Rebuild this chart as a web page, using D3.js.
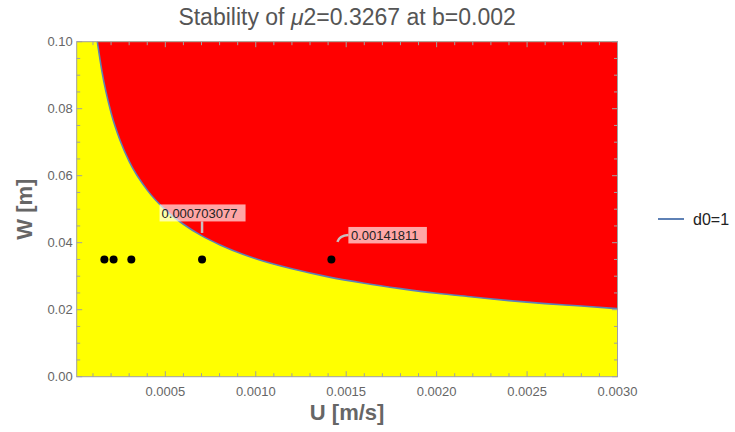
<!DOCTYPE html>
<html>
<head>
<meta charset="utf-8">
<script src="https://cdn.jsdelivr.net/npm/d3@7"></script>
<style>
  html, body { margin: 0; padding: 0; background: #ffffff; }
  svg { display: block; font-family: "Liberation Sans", Arial, sans-serif; }
</style>
</head>
<body>
<svg id="chart" width="735" height="432"></svg>
<script>
// ---- data ----
const boundaryU = [0.000124, 0.00015, 0.0002, 0.00025, 0.0003, 0.0004, 0.0005, 0.0006, 0.0007, 0.0008,
                   0.001, 0.0012, 0.0014, 0.0016, 0.0018, 0.002, 0.0022, 0.0024, 0.0026, 0.0028, 0.003];
const boundaryW = [0.1, 0.0910, 0.0788, 0.0705, 0.0643, 0.0557, 0.0498, 0.0455, 0.0421, 0.0394,
                   0.0352, 0.0322, 0.0298, 0.0279, 0.0263, 0.0249, 0.0238, 0.0227, 0.0218, 0.0211, 0.0203];
const pointU = [0.000163, 0.000214, 0.000312, 0.000703077, 0.00141811];
const pointW = [0.035, 0.035, 0.035, 0.035, 0.035];
const calloutLabels = ["0.000703077", "0.00141811"];
const calloutIndex = [3, 4];
const xTicks = [0.0005, 0.0010, 0.0015, 0.0020, 0.0025, 0.0030];
const xTickLabels = ["0.0005", "0.0010", "0.0015", "0.0020", "0.0025", "0.0030"];
const yTicks = [0, 0.02, 0.04, 0.06, 0.08, 0.10];
const yTickLabels = ["0.00", "0.02", "0.04", "0.06", "0.08", "0.10"];
const xDomain = [0.00001, 0.003];
const yDomain = [0, 0.1];
const legendLabel = "d0=1";

// ---- layout ----
const svg = d3.select("#chart");
const L = 76.7, R = 617.5, T = 41.7, B = 376.7;
const x = d3.scaleLinear().domain(xDomain).range([L, R]);
const y = d3.scaleLinear().domain(yDomain).range([B, T]);
const frameColor = "#a0a0a0";
const tickTextColor = "#666666";

const boundary = boundaryU.map((u, i) => ({u, w: boundaryW[i]}));

// yellow background (stable region)
svg.append("rect").attr("x", L).attr("y", T).attr("width", R - L).attr("height", B - T)
  .attr("fill", "#ffff00");

// red region above the boundary
const area = d3.area().x(d => x(d.u)).y0(y(yDomain[1])).y1(d => y(d.w)).curve(d3.curveMonotoneX);
svg.append("path").datum(boundary).attr("d", area).attr("fill", "#ff0000");

// boundary line
const line = d3.line().x(d => x(d.u)).y(d => y(d.w)).curve(d3.curveMonotoneX);
svg.append("path").datum(boundary).attr("d", line)
  .attr("fill", "none").attr("stroke", "#5e81b5").attr("stroke-width", 1.6);

// frame ticks
const g = svg.append("g");
const xMinor = d3.range(1, 31).map(i => i * 0.0001).filter(v => !xTicks.some(t => Math.abs(t - v) < 1e-9));
const yMinor = d3.range(1, 20).map(i => i * 0.005).filter(v => !yTicks.some(t => Math.abs(t - v) < 1e-9));
const majLen = 5.5, minLen = 3.5;
function tick(x1, y1, x2, y2) {
  g.append("line").attr("x1", x1).attr("y1", y1).attr("x2", x2).attr("y2", y2)
    .attr("stroke", frameColor).attr("stroke-width", 1);
}
xTicks.forEach(v => { tick(x(v), B, x(v), B - majLen); tick(x(v), T, x(v), T + majLen); });
xMinor.forEach(v => { tick(x(v), B, x(v), B - minLen); tick(x(v), T, x(v), T + minLen); });
yTicks.forEach(v => { tick(L, y(v), L + majLen, y(v)); tick(R, y(v), R - majLen, y(v)); });
yMinor.forEach(v => { tick(L, y(v), L + minLen, y(v)); tick(R, y(v), R - minLen, y(v)); });

svg.append("rect").attr("x", L).attr("y", T).attr("width", R - L).attr("height", B - T)
  .attr("fill", "none").attr("stroke", frameColor).attr("stroke-width", 1);

// tick labels
xTicks.forEach((v, i) => {
  svg.append("text").attr("x", x(v)).attr("y", B + 19).attr("text-anchor", "middle")
    .attr("font-size", 13).attr("fill", tickTextColor).text(xTickLabels[i]);
});
yTicks.forEach((v, i) => {
  svg.append("text").attr("x", L - 4).attr("y", y(v) + 4.5).attr("text-anchor", "end")
    .attr("font-size", 13).attr("fill", tickTextColor).text(yTickLabels[i]);
});

// axis labels
svg.append("text").attr("x", (L + R) / 2).attr("y", 420).attr("text-anchor", "middle")
  .attr("font-size", 22).attr("font-weight", "bold").attr("fill", "#666666").text("U [m/s]");
svg.append("text").attr("transform", `translate(32,${(T + B) / 2}) rotate(-90)`)
  .attr("text-anchor", "middle").attr("font-size", 22).attr("font-weight", "bold")
  .attr("fill", "#666666").text("W [m]");

// title
const title = svg.append("text").attr("x", (L + R) / 2).attr("y", 25).attr("text-anchor", "middle")
  .attr("font-size", 23).attr("fill", "#555555");
title.append("tspan").text("Stability of ");
title.append("tspan").attr("font-style", "italic").text("μ");
title.append("tspan").text("2=0.3267 at b=0.002");

// points
svg.selectAll("circle.pt").data(pointU.map((u, i) => ({u, w: pointW[i]}))).enter()
  .append("circle").attr("class", "pt")
  .attr("cx", d => x(d.u)).attr("cy", d => y(d.w)).attr("r", 4).attr("fill", "#000000");

// callouts
const leaderColor = "#c9c0c0";
// first callout: label above the point with a vertical leader
{
  const px = x(pointU[calloutIndex[0]]), py = y(pointW[calloutIndex[0]]);
  svg.append("line").attr("x1", px).attr("y1", py - 26.5).attr("x2", px).attr("y2", py - 38)
    .attr("stroke", leaderColor).attr("stroke-width", 2.5);
  svg.append("rect").attr("x", px - 42.5).attr("y", py - 55).attr("width", 86).attr("height", 17)
    .attr("fill", "#ffffff").attr("fill-opacity", 0.65);
  svg.append("text").attr("x", px - 40.5).attr("y", py - 41.5).attr("font-size", 13)
    .attr("fill", "#222222").text(calloutLabels[0]);
}
// second callout: label up-right with a hooked leader
{
  const px = x(pointU[calloutIndex[1]]), py = y(pointW[calloutIndex[1]]);
  svg.append("path")
    .attr("d", `M${px + 6},${py - 17.5} Q${px + 8},${py - 24} ${px + 17},${py - 24.5}`)
    .attr("fill", "none").attr("stroke", leaderColor).attr("stroke-width", 2.5);
  svg.append("rect").attr("x", px + 17).attr("y", py - 32.5).attr("width", 78.5).attr("height", 16.5)
    .attr("fill", "#ffffff").attr("fill-opacity", 0.65);
  svg.append("text").attr("x", px + 19.5).attr("y", py - 19.5).attr("font-size", 13)
    .attr("fill", "#222222").text(calloutLabels[1]);
}

// legend
svg.append("line").attr("x1", 658).attr("y1", 219).attr("x2", 684).attr("y2", 219)
  .attr("stroke", "#5e81b5").attr("stroke-width", 2);
svg.append("text").attr("x", 693).attr("y", 225).attr("font-size", 16).attr("fill", "#222222")
  .text(legendLabel);
</script>
</body>
</html>
